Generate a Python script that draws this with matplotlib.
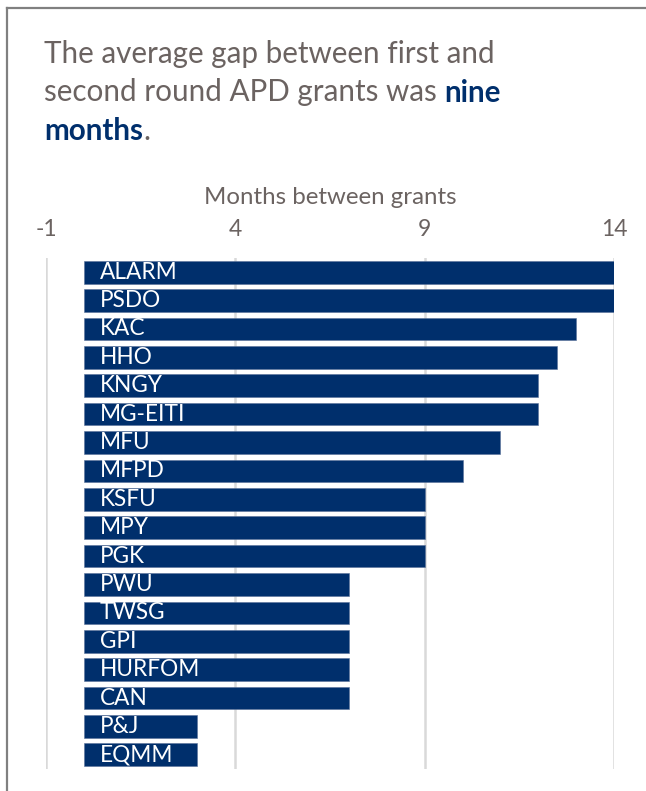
import matplotlib
matplotlib.use("Agg")
import matplotlib.pyplot as plt
from matplotlib.lines import Line2D

plt.rcParams['font.family'] = ['Lato', 'DejaVu Sans']

# data
orgs = ['ALARM', 'PSDO', 'KAC', 'HHO', 'KNGY', 'MG-EITI', 'MFU', 'MFPD',
        'KSFU', 'MPY', 'PGK', 'PWU', 'TWSG', 'GPI', 'HURFOM', 'CAN',
        'P&J', 'EQMM']
months = [14, 14, 13, 12.5, 12, 12, 11, 10, 9, 9, 9, 7, 7, 7, 7, 7, 3, 3]
xticks = [-1, 4, 9, 14]

navy = '#002F6C'
grey_txt = '#6B6361'
grid_col = '#D9D9D9'

W, H = 646, 791
fig = plt.figure(figsize=(W / 100, H / 100), dpi=100)

# frame (top and left edges only, as in the cropped reference)
fig.add_artist(Line2D([7 / W, 1], [1 - 7.5 / H, 1 - 7.5 / H],
                      transform=fig.transFigure, color='#808080', lw=1.6))
fig.add_artist(Line2D([7 / W, 7 / W], [0, 1 - 7.5 / H],
                      transform=fig.transFigure, color='#808080', lw=1.6))

ax = fig.add_axes([46 / W, 1 - 769 / H, (614 - 46) / W, (769 - 258) / H])
y = list(range(len(orgs)))
ax.barh(y, months, height=0.8, color=navy, edgecolor='#5A7299', linewidth=0.4,
        zorder=3)
for i, name in enumerate(orgs):
    ax.text(0.42, i, name, color='white', fontsize=16.3, va='center',
            ha='left', zorder=4)

ax.set_xlim(-1, 14)
ax.set_ylim(len(orgs) - 0.5, -0.5)
ax.set_xticks(xticks)
ax.set_xticklabels(['-1', '4', '9', '14'])
ax.xaxis.tick_top()
ax.xaxis.set_label_position('top')
ax.tick_params(axis='x', length=0, pad=13, labelsize=16.5, labelcolor=grey_txt)
ax.set_yticks([])
ax.set_xlabel('Months between grants', fontsize=17.3, color=grey_txt,
              labelpad=11)
ax.grid(axis='x', color=grid_col, lw=1.8, zorder=0)
for s in ax.spines.values():
    s.set_visible(False)

# title with mixed styling
fig.canvas.draw()
r = fig.canvas.get_renderer()
fs = 21.3
x0 = 44 / W
lines_y = [1 - 63 / H, 1 - 101.5 / H, 1 - 140 / H]
fig.text(x0, lines_y[0], 'The average gap between first and', fontsize=fs,
         color=grey_txt, va='baseline')
t = fig.text(x0, lines_y[1], 'second round APD grants was ', fontsize=fs,
             color=grey_txt, va='baseline')
bb = t.get_window_extent(r)
fig.text(bb.x1 / W, lines_y[1], 'nine', fontsize=fs, color=navy,
         fontweight='bold', va='baseline')
t = fig.text(x0, lines_y[2], 'months', fontsize=fs, color=navy,
             fontweight='bold', va='baseline')
bb = t.get_window_extent(r)
fig.text(bb.x1 / W, lines_y[2], '.', fontsize=fs, color=grey_txt,
         va='baseline')

fig.savefig('out.png', dpi=100)
